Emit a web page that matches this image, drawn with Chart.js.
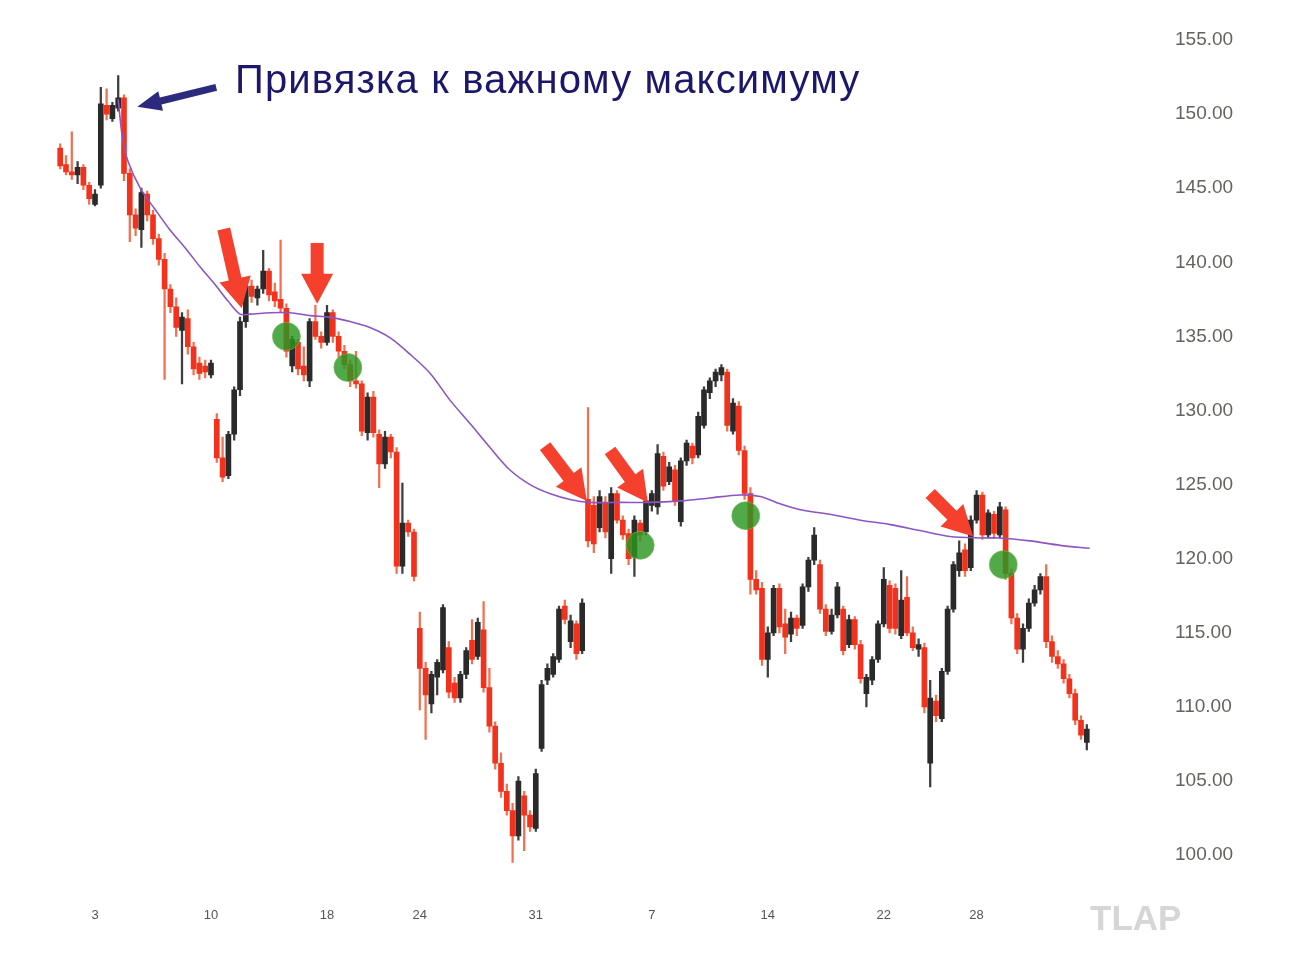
<!DOCTYPE html>
<html>
<head>
<meta charset="utf-8">
<script src="https://cdn.jsdelivr.net/npm/chart.js@4.4.1/dist/chart.umd.min.js"></script>
<style>
html,body{margin:0;padding:0;background:#fff;}
#wrap{position:relative;width:1290px;height:957px;}
#title{position:absolute;left:235px;top:59px;font:40px "Liberation Sans",Arial,sans-serif;letter-spacing:1.15px;color:#1b176b;white-space:nowrap;line-height:40px;}
#logo{position:absolute;left:1090px;top:900px;font:bold 35px "Liberation Sans",Arial,sans-serif;line-height:35px;color:#d6d6d6;}
</style>
</head>
<body>
<div id="wrap">
<canvas id="chart" width="1290" height="957"></canvas>
<div id="title">Привязка к важному максимуму</div>
<div id="logo">TLAP</div>
</div>

<script>
// ------------------------------------
// CANDLES (4 bars per trading day, index = bar number)
// ------------------------------------

const opens = [
147.7,146.6,146.1,145.9,146.4,145.2,143.9,145.2,150.6,149.7,
150.4,151.1,146.0,143.2,142.2,144.6,143.2,141.6,140.2,138.2,
137.0,135.4,136.2,134.3,133.2,133.0,132.4,129.4,126.8,125.6,
128.4,131.4,136.0,138.4,137.6,138.2,139.4,138.0,137.5,136.9,
133.0,134.6,133.0,132.0,136.0,135.0,134.6,136.6,135.0,134.0,
133.1,132.0,131.8,128.5,130.9,128.4,126.4,128.2,127.2,119.5,
122.4,121.8,115.3,112.6,110.2,112.0,112.5,114.0,111.6,110.6,
112.2,114.5,113.4,115.2,111.3,108.7,106.2,104.3,103.0,101.3,
104.0,102.7,101.8,107.2,111.8,112.2,113.2,116.8,114.4,115.6,
113.8,124.0,123.6,122.1,123.8,120.0,124.4,122.6,121.7,120.1,
122.4,121.8,123.6,123.5,126.9,125.2,126.0,122.5,126.6,127.6,
127.0,129.0,131.2,132.0,132.4,132.6,128.6,130.3,127.3,124.4,
118.6,118.0,113.2,115.0,118.0,115.6,114.9,116.0,115.5,118.1,
119.9,119.6,116.6,115.1,116.2,116.6,114.2,115.9,114.2,110.9,
111.8,113.2,115.6,118.2,118.0,114.8,117.4,115.0,113.9,114.0,
106.2,110.4,109.2,112.4,116.6,119.2,120.6,119.4,122.6,124.3,
121.6,123.0,121.6,123.3,119.0,116.0,113.9,115.3,117.0,117.9,
118.8,114.4,113.4,112.9,111.9,110.9,109.1,107.6
]

const highs = [
148.0,147.2,148.8,146.8,146.6,145.4,144.9,151.8,151.7,150.8,
152.6,151.3,146.3,143.6,145.0,144.8,143.5,141.9,140.6,138.5,
137.6,136.6,136.8,134.6,133.6,133.4,133.4,129.8,128.2,128.6,
131.6,136.3,138.8,138.8,138.4,140.8,139.6,138.6,141.5,137.2,
135.0,134.8,134.3,136.2,137.1,135.3,137.1,136.8,135.3,134.4,
133.4,134.0,132.0,131.2,131.3,128.7,128.6,128.4,127.5,125.1,
122.6,122.0,116.4,113.0,112.4,113.2,116.9,114.4,112.0,112.4,
114.0,115.9,116.0,117.1,112.6,109.0,106.9,104.8,103.5,105.3,
104.3,103.0,105.8,111.8,112.9,113.6,116.8,117.2,116.2,115.8,
117.3,130.2,124.2,124.6,124.2,124.8,124.6,122.9,122.0,122.9,
122.6,124.2,124.6,127.7,127.2,126.5,126.3,126.8,128.0,127.8,
129.9,131.6,132.2,132.8,133.1,132.8,130.8,130.6,127.6,124.8,
119.2,118.4,115.4,118.2,118.3,116.6,116.4,116.2,118.3,120.1,
122.1,119.9,116.9,116.6,118.4,116.8,116.2,116.1,114.5,112.2,
113.4,115.8,119.4,118.5,118.3,119.2,118.8,115.4,114.6,114.3,
111.8,110.8,112.6,116.8,119.8,121.2,121.0,122.9,124.6,124.5,
123.3,123.2,123.8,123.5,119.3,116.3,115.6,117.3,118.2,119.0,
119.6,114.8,113.8,113.2,112.2,111.2,109.4,108.8
]

const lows = [
146.3,145.9,145.6,145.3,144.9,143.9,143.8,145.0,149.6,149.5,
150.2,145.5,141.4,141.8,141.0,142.8,141.2,139.8,132.1,136.6,
135.0,131.8,133.8,132.4,132.1,132.2,132.2,126.5,125.2,125.4,
128.0,131.0,135.6,137.3,137.1,137.9,137.4,137.0,136.6,133.6,
132.6,132.4,132.0,131.6,134.8,134.2,134.4,134.6,133.6,132.8,
131.6,131.5,128.3,128.0,128.2,124.8,126.1,126.8,119.0,119.0,
121.5,118.5,109.8,107.8,109.6,110.8,112.3,110.6,110.3,110.3,
111.9,112.9,113.2,111.0,108.3,105.8,103.9,102.7,99.5,101.0,
100.3,101.6,101.6,107.0,111.5,112.0,113.0,115.6,114.0,113.2,
113.6,120.8,120.4,121.8,121.4,119.0,122.4,121.3,119.6,118.8,
121.2,121.6,123.2,123.0,124.6,125.0,123.6,122.2,126.3,126.4,
126.8,128.8,130.8,131.6,132.0,128.6,128.4,127.0,124.0,117.6,
117.6,112.8,112.0,114.8,115.0,113.6,114.4,114.8,115.3,117.8,
119.6,116.3,114.8,114.9,116.0,113.5,114.0,113.9,111.6,110.0,
111.5,113.0,115.4,115.0,114.9,114.6,114.8,113.8,113.4,109.6,
104.6,109.0,109.0,112.2,116.4,118.8,118.8,119.2,122.4,121.3,
121.4,121.4,121.4,118.6,115.6,113.6,113.0,115.1,116.8,117.6,
114.0,113.0,112.6,111.6,110.6,108.8,107.8,107.1
]

const closes = [
146.5,146.1,145.9,146.4,145.2,144.3,144.6,150.7,150.0,150.6,
151.1,146.0,143.2,142.3,144.7,143.2,141.6,140.2,138.2,137.0,
135.6,136.3,134.3,132.8,132.5,132.6,133.2,126.8,125.5,128.4,
131.4,136.0,138.4,137.7,138.2,139.4,137.8,137.4,136.9,134.0,
134.8,132.8,132.4,136.0,135.0,134.6,136.6,135.0,134.0,133.1,
132.0,131.8,128.6,130.9,128.5,126.4,128.2,127.2,119.5,122.4,
121.8,118.8,112.6,110.8,112.2,113.0,116.7,111.0,110.6,112.2,
113.8,113.2,115.7,111.3,108.7,106.2,104.3,103.0,101.3,105.0,
102.7,101.9,105.5,111.5,112.6,113.4,116.6,115.9,115.8,113.6,
117.0,121.2,121.0,124.2,121.8,124.4,122.6,121.6,120.0,122.6,
121.6,123.9,124.4,127.1,124.9,126.2,123.9,126.6,127.8,126.8,
129.6,131.4,132.0,132.6,132.9,129.0,130.5,127.3,124.4,118.6,
117.9,113.2,115.0,118.0,115.4,114.7,116.0,115.3,118.1,119.9,
121.6,116.6,115.1,116.2,118.1,113.8,115.9,114.2,111.9,112.0,
113.2,115.6,118.6,115.3,115.3,117.2,115.0,114.0,114.2,110.0,
110.6,109.4,112.4,116.6,119.6,120.4,119.2,122.6,124.3,121.6,
123.1,121.7,123.5,119.0,116.0,113.9,115.3,117.0,117.9,118.8,
114.4,113.4,112.9,111.9,110.9,109.1,108.1,108.5
]

// anchored VWAP from the high (bar index / price)
const vwapX = [10.0,10.7,11.7,13.8,16.3,18.9,21.5,24.1,26.7,28.9,31.0,32.7,36.2,39.6,43.1,46.5,50.0,53.4,56.9,60.3,63.8,67.2,70.7,74.1,77.5,81.0,84.4,87.9,91.3,96.5,101.7,106.9,112.0,117.2,120.7,124.1,127.6,132.7,138.0,143.1,148.2,153.4,158.6,162.0,167.2,172.4,177.5]
const vwapY = [151.0,148.5,146.8,145.0,143.6,142.2,141.0,139.7,138.5,137.4,136.5,136.5,136.6,136.6,136.4,136.3,136.0,135.6,134.9,133.8,132.5,130.7,129.1,127.5,126.0,125.0,124.4,124.0,123.8,123.8,123.8,123.9,124.1,124.3,124.2,123.7,123.3,123.0,122.6,122.3,121.9,121.5,121.4,121.4,121.2,120.9,120.7]

// ticks
const dayTickBars = [6,26,46,62,82,102,122,142,158]
const dayLabels = ["3","10","18","24","31","7","14","22","28"]
const priceTicks = [100,105,110,115,120,125,130,135,140,145,150,155]

// annotations (bar index / price)
const circleX = [39.0,49.6,100.0,118.2,162.6]
const circleY = [135.0,132.9,120.9,122.9,119.6]

const redTailX = [28.2,44.3,83.6,94.8,150.0]
const redTailY = [142.25,141.3,127.6,127.3,124.4]
const redTipX = [31.3,44.3,90.8,101.3,157.4]
const redTipY = [136.9,137.2,123.9,123.8,121.5]

const blueTail = [26.9,151.8]
const blueTip = [13.3,150.5]


// ------------------------------------
// BUILD DATASETS
// ------------------------------------

const bodyColors = closes.map((c,i)=> c >= opens[i] ? "#2a2a2a" : "#f2321c")
const wickColors = closes.map((c,i)=> c >= opens[i] ? "#3d3d3d" : "#f36f4f")

const bodyData = opens.map((o,i)=>({x:i, y:[o, closes[i]]}))
const wickData = lows.map((l,i)=>({x:i, y:[l, highs[i]]}))
const vwapData = vwapX.map((x,i)=>({x:x, y:vwapY[i]}))
const circleData = circleX.map((x,i)=>({x:x, y:circleY[i]}))


// ------------------------------------
// ARROWS
// ------------------------------------

function drawArrow(c, x1, y1, x2, y2, color, shaft, headW, headL){
    const ang = Math.atan2(y2-y1, x2-x1)
    const len = Math.hypot(x2-x1, y2-y1)
    c.save()
    c.translate(x2, y2)
    c.rotate(ang)
    c.beginPath()
    c.moveTo(0, 0)
    c.lineTo(-headL, -headW/2)
    c.lineTo(-headL, -shaft/2)
    c.lineTo(-len, -shaft/2)
    c.lineTo(-len, shaft/2)
    c.lineTo(-headL, shaft/2)
    c.lineTo(-headL, headW/2)
    c.closePath()
    c.fillStyle = color
    c.fill()
    c.restore()
}

const arrowPlugin = {
    id:"arrows",
    afterDatasetsDraw(chart){
        const xs = chart.scales.x
        const ys = chart.scales.y
        const c = chart.ctx
        redTailX.forEach((tx,i)=>{
            drawArrow(c,
                xs.getPixelForValue(tx), ys.getPixelForValue(redTailY[i]),
                xs.getPixelForValue(redTipX[i]), ys.getPixelForValue(redTipY[i]),
                "#f4402c", 13, 32, 30)
        })
        drawArrow(c,
            xs.getPixelForValue(blueTail[0]), ys.getPixelForValue(blueTail[1]),
            xs.getPixelForValue(blueTip[0]), ys.getPixelForValue(blueTip[1]),
            "#2b2a7c", 7, 20, 24)
    }
}


// ------------------------------------
// CHART
// ------------------------------------

const ctx = document.getElementById("chart").getContext("2d")

const chart = new Chart(ctx,{
    type:"bar",
    data:{
        datasets:[
            {
                type:"scatter",
                data:circleData,
                pointRadius:14,
                pointHoverRadius:14,
                backgroundColor:"rgba(44,150,34,0.82)",
                borderColor:"rgba(110,190,80,0.6)",
                borderWidth:1,
                order:0
            },
            {
                type:"line",
                data:vwapData,
                borderColor:"#8d55c4",
                borderWidth:1.6,
                pointRadius:0,
                tension:0.3,
                fill:false,
                order:1
            },
            {
                data:bodyData,
                backgroundColor:bodyColors,
                barThickness:5,
                minBarLength:2,
                grouped:false,
                order:2
            },
            {
                data:wickData,
                backgroundColor:wickColors,
                barThickness:1.6,
                grouped:false,
                order:3
            }
        ]
    },
    options:{
        responsive:false,
        animation:false,
        layout:{padding:{left:5, right:0, top:18, bottom:0}},
        plugins:{
            legend:{display:false},
            tooltip:{enabled:false}
        },
        scales:{
            x:{
                type:"linear",
                min:-9.5,
                max:190.5,
                offset:false,
                grid:{display:false, drawTicks:false, offset:false},
                border:{display:false},
                afterBuildTicks:s=>{ s.ticks = dayTickBars.map(v=>({value:v})) },
                afterFit:s=>{ s.height = 79 },
                ticks:{
                    autoSkip:false,
                    maxRotation:0,
                    padding:30,
                    color:"#555",
                    font:{size:13, family:"Liberation Sans"},
                    callback:(v,i)=>dayLabels[i]
                }
            },
            y:{
                position:"right",
                min:98.5,
                max:156.5,
                grid:{display:false, drawTicks:false},
                border:{display:false},
                afterBuildTicks:s=>{ s.ticks = priceTicks.map(v=>({value:v})) },
                afterFit:s=>{ s.width = 125 },
                ticks:{
                    padding:10,
                    color:"#60655e",
                    font:{size:19, family:"Liberation Sans"},
                    callback:v=>v.toFixed(2)
                }
            }
        }
    },
    plugins:[arrowPlugin]
})

// fit the scale ranges to the real plot area: bar 0 at x=60.2, 5.8 px per bar,
// price 155 at y=40, 14.82 px per point
const area = chart.chartArea
chart.options.scales.x.min = (area.left - 60.2) / 5.8
chart.options.scales.x.max = (area.right - 60.2) / 5.8
chart.options.scales.y.max = 155 - (area.top - 40) / 14.82
chart.options.scales.y.min = 155 - (area.bottom - 40) / 14.82
chart.update()
</script>
</body>
</html>
